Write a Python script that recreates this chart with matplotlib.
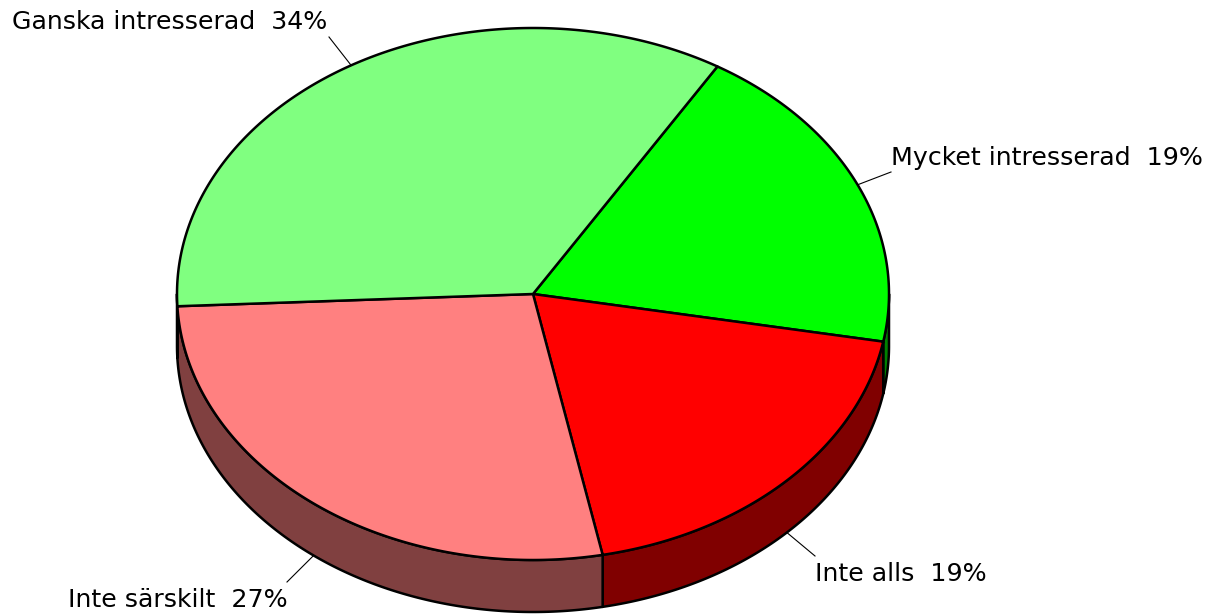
import numpy as np
import matplotlib.pyplot as plt
from matplotlib.patches import Polygon

labels = ['Mycket intresserad', 'Inte alls', 'Inte särskilt', 'Ganska intresserad']
shares = [19.2, 19.0, 27.4, 34.4]
top_colors = ['#00FF00', '#FF0000', '#FF8080', '#80FF80']
side_colors = ['#008000', '#800000', '#804040', '#408040']

# pie geometry in pixels
cx, cy, rx, ry, depth = 533, 294, 356, 266, 52
start = 58.8

# label placement (text anchor, ha, leader end)
label_pos = [((891, 158), 'left', (891, 172)),
             ((815, 574), 'left', (815, 556)),
             ((288, 600), 'right', (287, 582)),
             ((327, 22), 'right', (329, 37))]


def pt(t, dy=0):
    r = np.radians(t)
    return cx + rx * np.cos(r), cy - ry * np.sin(r) + dy


fig = plt.figure(figsize=(12.08, 6.14), dpi=100)
ax = fig.add_axes([0, 0, 1, 1])
ax.set_xlim(0, 1208)
ax.set_ylim(614, 0)
ax.axis('off')

total = sum(shares)
spans = []
theta = start
for v in shares:
    t2 = theta - v / total * 360
    spans.append((t2, theta))
    theta = t2

# sides (only the front half is visible)
for (t2, t1), sc in zip(spans, side_colors):
    for k in (-1, 0, 1):
        lo = max(t2, -180 + 360 * k)
        hi = min(t1, 0 + 360 * k)
        if hi - lo <= 0:
            continue
        ts = np.linspace(lo, hi, 200)
        top = [pt(t) for t in ts]
        bot = [pt(t, depth) for t in ts[::-1]]
        ax.add_patch(Polygon(top + bot, closed=True, facecolor=sc,
                             edgecolor='black', lw=1.8, joinstyle='round', zorder=1))

# top faces
for (t2, t1), tc in zip(spans, top_colors):
    ts = np.linspace(t1, t2, 300)
    verts = [(cx, cy)] + [pt(t) for t in ts]
    ax.add_patch(Polygon(verts, closed=True, facecolor=tc,
                         edgecolor='black', lw=1.8, joinstyle='round', zorder=2))

# labels with leader lines
for lab, v, (t2, t1), (txy, ha, end) in zip(labels, shares, spans, label_pos):
    mid = (t1 + t2) / 2
    dy = depth if np.sin(np.radians(mid)) < 0 else 0
    sx, sy = pt(mid, dy)
    ax.plot([sx, end[0]], [sy, end[1]], color='black', lw=0.8, zorder=3)
    ax.text(txy[0], txy[1], f'{lab}  {round(v)}%', ha=ha, va='center',
            fontsize=18.2, family='DejaVu Sans', color='black')

fig.savefig('out.png', dpi=100, facecolor='white')
